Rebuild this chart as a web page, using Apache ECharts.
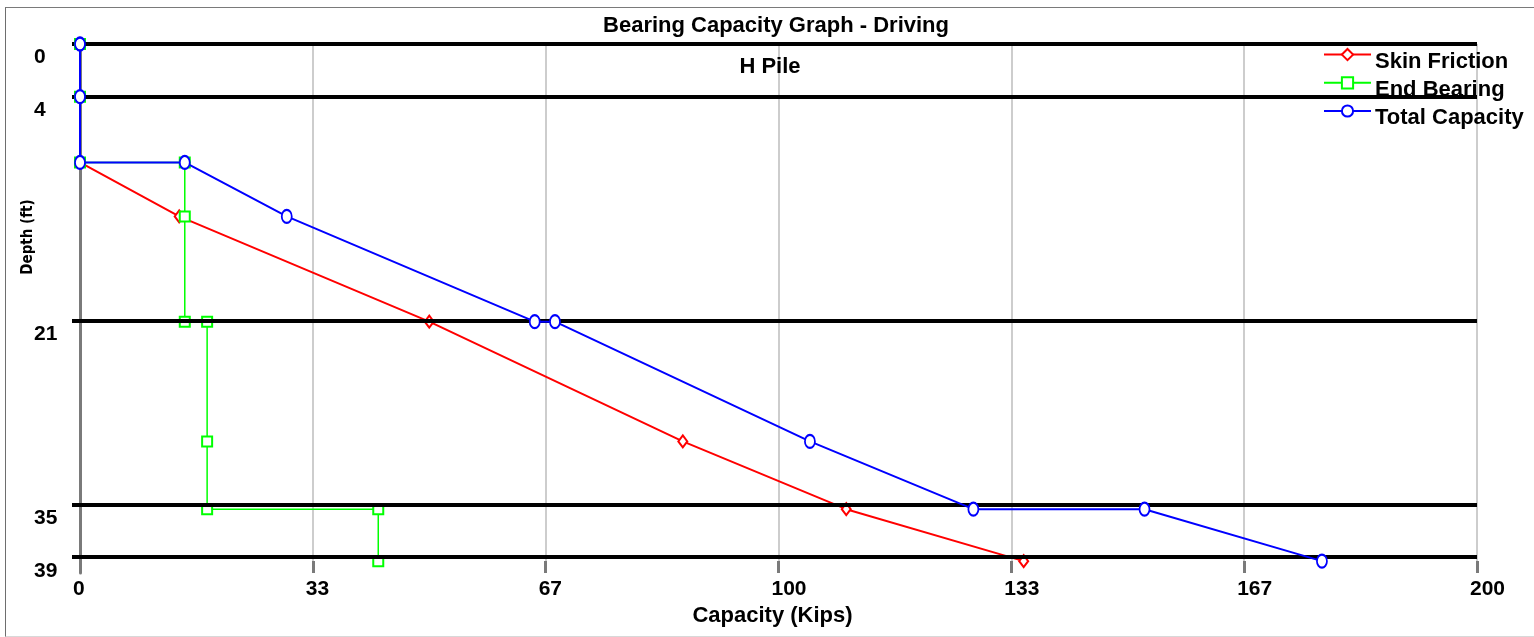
<!DOCTYPE html>
<html>
<head>
<meta charset="utf-8">
<script src="https://cdn.jsdelivr.net/npm/echarts@6/dist/echarts.min.js"></script>
<style>
  html, body { margin: 0; padding: 0; background: #fff; }
  #wrap { position: relative; width: 1534px; height: 637px; overflow: hidden; }
  #chart { position: absolute; left: 0; top: 0; width: 1534px; height: 637px; }
  #frame { position: absolute; left: 5px; top: 7px; width: 1600px; height: 628px; border-left: 1px solid #6e6e6e; border-top: 1px solid #7a7a7a; border-bottom: 1px solid #d8d8d8; pointer-events: none; }
</style>
</head>
<body>
<div id="wrap"><div id="chart"></div><div id="frame"></div></div>
<script>
// ---- data ----
const titleText = 'Bearing Capacity Graph - Driving';
const subTitleText = 'H Pile';
const layerDepths = [0, 4, 21, 35, 39];          // y tick labels / layer boundary lines (ft)
const xTickCount = 6;                            // 0..200 in 6 steps
const xMax = 200;

const skinDepth    = [0, 4, 9, 13.1, 21.1, 30.2, 35.35, 39.3];
const skinFriction = [0, 0, 0, 14.2, 50.0, 86.3, 109.7, 135.1];

const endDepth     = [0, 4, 9, 9, 13.1, 21.1, 21.1, 30.2, 35.35, 35.35, 39.3];
const endBearing   = [0, 0, 0, 15, 15, 15, 18.2, 18.2, 18.2, 42.7, 42.7];

const totalDepth    = [0, 4, 9, 9, 13.1, 21.1, 21.1, 30.2, 35.35, 35.35, 39.3];
const totalCapacity = [0, 0, 0, 15, 29.6, 65.1, 68.0, 104.5, 127.9, 152.4, 177.8];

const seriesNames = ['Skin Friction', 'End Bearing', 'Total Capacity'];

function pairs(xs, ys) { return xs.map((x, i) => [x, ys[i]]); }

const FONT = '"Liberation Sans", Arial, sans-serif';
const chart = echarts.init(document.getElementById('chart'), null, { renderer: 'canvas' });

const option = {
  animation: false,
  backgroundColor: '#fff',
  title: [
    { text: titleText, left: 776, top: 15, textAlign: 'center', padding: 0,
      textStyle: { fontFamily: FONT, fontWeight: 'bold', fontSize: 22, color: '#000' } },
    { text: subTitleText, left: 770, top: 56, textAlign: 'center', padding: 0,
      textStyle: { fontFamily: FONT, fontWeight: 'bold', fontSize: 22, color: '#000' } }
  ],
  legend: [
    { // icons only
      data: seriesNames,
      orient: 'vertical',
      left: 1323, top: 48, padding: 0, itemGap: 15,
      itemWidth: 47, itemHeight: 14,
      formatter: () => '',
      textStyle: { fontSize: 1, lineHeight: 1 }
    },
    { // texts only
      data: seriesNames,
      orient: 'vertical',
      left: 1323, top: 48, padding: 0, itemGap: 0,
      itemWidth: 47, itemHeight: 14, icon: 'rect',
      itemStyle: { opacity: 0 }, lineStyle: { opacity: 0 },
      textStyle: { fontFamily: FONT, fontWeight: 'bold', fontSize: 22, color: '#000', lineHeight: 28 }
    }
  ],
  graphic: [
    { type: 'text', x: 28, y: 237, rotation: Math.PI / 2,
      style: { text: 'Depth (ft)', font: 'bold 15px "DejaVu Sans Condensed", "DejaVu Sans", sans-serif', fill: '#000',
               textAlign: 'center', textVerticalAlign: 'middle' } }
  ],
  grid: { left: 80, right: 57, top: 44, bottom: 64, containLabel: false, outerBoundsMode: 'none' },
  xAxis: {
    type: 'value', min: 0, max: xMax, interval: xMax / xTickCount,
    name: 'Capacity (Kips)', nameLocation: 'middle', nameGap: 28,
    nameTextStyle: { fontFamily: FONT, fontWeight: 'bold', fontSize: 22, color: '#000', padding: [0, 12, 0, 0] },
    axisLine: { show: false, onZero: false },
    axisTick: { show: true, inside: true, length: 12, lineStyle: { color: '#7a7a7a', width: 3 } },
    axisLabel: { margin: 6, align: 'left', padding: [0, 0, 0, -7],
                 fontFamily: FONT, fontWeight: 'bold', fontSize: 21, color: '#000',
                 formatter: v => String(Math.round(v)) },
    splitLine: { show: true, lineStyle: { color: '#cdcdcd', width: 2 } }
  },
  yAxis: {
    type: 'value', inverse: true, min: 0, max: 40.2,
    axisLine: { show: true, onZero: false, lineStyle: { color: '#7a7a7a', width: 3 } },
    axisTick: { show: true, customValues: layerDepths, length: 8, lineStyle: { color: '#000', width: 4 } },
    axisLabel: { customValues: layerDepths, margin: 46, align: 'left', verticalAlign: 'top', padding: [3, 0, 0, 0],
                 fontFamily: FONT, fontWeight: 'bold', fontSize: 21, color: '#000' },
    splitLine: { show: false }
  },
  series: [
    {
      name: '', type: 'line', data: [], z: 1, silent: true,
      markLine: {
        silent: true, symbol: ['none', 'none'], animation: false,
        label: { show: false },
        lineStyle: { color: '#000', width: 4, type: 'solid' },
        emphasis: { disabled: true },
        data: layerDepths.map(d => ({ yAxis: d }))
      }
    },
    {
      name: seriesNames[0], type: 'line', z: 3, clip: false,
      data: pairs(skinFriction, skinDepth),
      symbol: 'emptyDiamond', symbolSize: [9, 12],
      lineStyle: { color: '#ff0000', width: 2 },
      itemStyle: { color: '#ff0000', borderWidth: 1.5 }
    },
    {
      name: seriesNames[1], type: 'line', z: 4, clip: false,
      data: pairs(endBearing, endDepth),
      symbol: 'emptyRect', symbolSize: 10,
      lineStyle: { color: '#00ff00', width: 1.5 },
      itemStyle: { color: '#00ff00', borderWidth: 1.5 }
    },
    {
      name: seriesNames[2], type: 'line', z: 5, clip: false,
      data: pairs(totalCapacity, totalDepth),
      symbol: 'emptyCircle', symbolSize: [10, 13],
      lineStyle: { color: '#0000ff', width: 2 },
      itemStyle: { color: '#0000ff', borderWidth: 2 }
    }
  ]
};
chart.setOption(option);
</script>
</body>
</html>
